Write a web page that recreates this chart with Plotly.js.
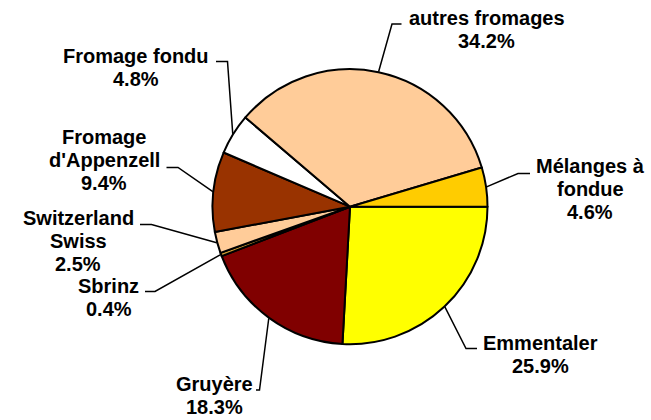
<!DOCTYPE html>
<html>
<head>
<meta charset="utf-8">
<script src="https://cdn.plot.ly/plotly-3.0.1.min.js"></script>
<style>html,body{margin:0;padding:0;background:#fff;}#chart{width:651px;height:420px;}</style>
</head>
<body>
<div id="chart"></div>
<script>
// ---- data ----
var labels = ['Emmentaler', 'Gruyère', 'Sbrinz', 'Switzerland Swiss', "Fromage d'Appenzell", 'Fromage fondu', 'autres fromages', 'Mélanges à fondue'];
var values = [25.9, 18.3, 0.4, 2.5, 9.4, 4.8, 34.2, 4.6];
var labelLines = [['Emmentaler'], ['Gruyère'], ['Sbrinz'], ['Switzerland', 'Swiss'], ['Fromage', "d'Appenzell"], ['Fromage fondu'], ['autres fromages'], ['Mélanges à', 'fondue']];
var colors = ['#FFFF00', '#800000', '#CC9933', '#FFCC99', '#993300', '#FFFFFF', '#FFCC99', '#FFCC00'];

// ---- layout (pixels) ----
var W = 651, H = 420;
var CX = 350, CY = 206.7, R = 137.5;
var lineGap = 23;
// label block: centre x, first baseline y, elbow point, end point
var labelPos = [
  {cx: 540, by: 350, elbow: [466, 348.5], end: [477, 348.5]},
  {cx: 215, by: 391.5, elbow: [259.5, 390], end: [256, 390]},
  {cx: 108.5, by: 293.3, elbow: [155, 291.5], end: [145, 291.5]},
  {cx: 78, by: 225, elbow: [151.5, 224.5], end: [140, 224.5]},
  {cx: 104, by: 144.5, elbow: [178, 167.5], end: [166.5, 167.5]},
  {cx: 135.5, by: 63.3, elbow: [227.5, 61.5], end: [216, 61.5]},
  {cx: 486.7, by: 25, elbow: [392, 24], end: [401.5, 24]},
  {cx: 590, by: 173.3, elbow: [518, 173.5], end: [530, 173.5]}
];

function px(x) { return x / W; }
function py(y) { return 1 - y / H; }

var total = values.reduce(function (a, b) { return a + b; }, 0);
var annotations = [], shapes = [];
var cum = 0;
var FS = 20;
for (var i = 0; i < values.length; i++) {
  var mid = (cum + values[i] / 2) / total * 2 * Math.PI; // clockwise from 3 o'clock
  cum += values[i];
  var sx = CX + (R + 0.5) * Math.cos(mid), sy = CY + (R + 0.5) * Math.sin(mid);
  var p = labelPos[i];
  shapes.push({
    type: 'path', xref: 'paper', yref: 'paper',
    path: 'M' + px(sx) + ',' + py(sy) + ' L' + px(p.elbow[0]) + ',' + py(p.elbow[1]) + ' L' + px(p.end[0]) + ',' + py(p.end[1]),
    line: {color: '#000', width: 1.5}
  });
  var lines = labelLines[i].concat([values[i].toFixed(1) + '%']);
  for (var j = 0; j < lines.length; j++) {
    var base = p.by + j * lineGap;
    annotations.push({
      xref: 'paper', yref: 'paper', x: px(p.cx), y: py(base - 0.36 * FS),
      xanchor: 'center', yanchor: 'middle', showarrow: false,
      text: '<b>' + lines[j] + '</b>',
      font: {family: 'Liberation Sans, Arial, sans-serif', size: FS, color: '#000'}
    });
  }
}

var trace = {
  type: 'pie',
  labels: labels,
  values: values,
  sort: false,
  direction: 'clockwise',
  rotation: 90,
  textinfo: 'none',
  hoverinfo: 'skip',
  marker: {colors: colors, line: {color: '#000', width: 2}},
  domain: {x: [px(CX - R), px(CX + R)], y: [py(CY + R), py(CY - R)]}
};

var layout = {
  width: W, height: H,
  margin: {l: 0, r: 0, t: 0, b: 0},
  paper_bgcolor: '#fff',
  showlegend: false,
  annotations: annotations,
  shapes: shapes
};

Plotly.newPlot('chart', [trace], layout, {displayModeBar: false, staticPlot: true});
</script>
</body>
</html>
